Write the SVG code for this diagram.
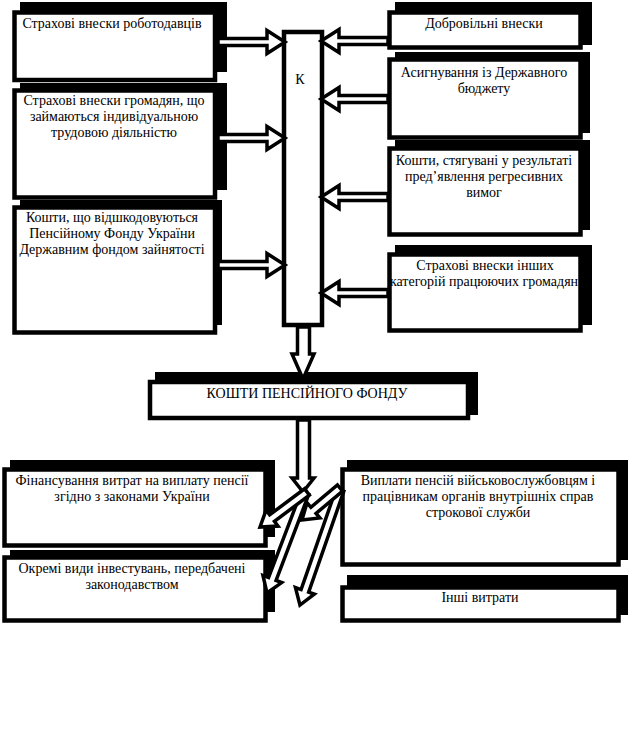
<svg xmlns="http://www.w3.org/2000/svg" width="630" height="731" viewBox="0 0 630 731">
<style>
.sh{fill:#000}
.bx{fill:#fff;stroke:#000;stroke-width:4.5}
.ar{fill:#fff;stroke:#000;stroke-width:3.5;stroke-linejoin:miter;stroke-miterlimit:10}
text{font-family:"Liberation Serif","Times New Roman",serif;font-size:14px;fill:#000;text-anchor:middle}
</style>
<rect width="630" height="731" fill="#fff"/>

<g id="l1">
<rect class="sh" x="20" y="2" width="207" height="70"/>
<rect class="bx" x="14.5" y="12.5" width="200.5" height="67.5"/>
<text x="112" y="28">Страхові внески роботодавців</text>
</g>
<g id="l2">
<rect class="sh" x="20" y="83" width="207" height="107"/>
<rect class="bx" x="14.5" y="90.5" width="200.5" height="107"/>
<text x="114" y="105">Страхові внески громадян, що</text>
<text x="114" y="121">займаються індивідуальною</text>
<text x="114" y="137">трудовою діяльністю</text>
</g>
<g id="l3">
<rect class="sh" x="20" y="200" width="202" height="125"/>
<rect class="bx" x="14.5" y="207.5" width="200.5" height="125"/>
<text x="112" y="222">Кошти, що відшкодовуються</text>
<text x="112" y="238">Пенсійному Фонду України</text>
<text x="112" y="254">Державним фондом зайнятості</text>
</g>

<g id="k">
<rect class="bx" x="284" y="32" width="38" height="293" stroke-width="4"/>
<text x="300" y="84">К</text>
</g>

<g id="r1">
<rect class="sh" x="395" y="2" width="197" height="43"/>
<rect class="bx" x="389.5" y="12.5" width="191" height="35"/>
<text x="484" y="28">Добровільні внески</text>
</g>
<g id="r2">
<rect class="sh" x="395" y="52" width="195" height="81"/>
<rect class="bx" x="389.5" y="59.5" width="191" height="78"/>
<text x="484" y="77">Асигнування із Державного</text>
<text x="484" y="93">бюджету</text>
</g>
<g id="r3">
<rect class="sh" x="395" y="140" width="195" height="90"/>
<rect class="bx" x="389.5" y="148.5" width="191" height="86"/>
<text x="484" y="165">Кошти, стягувані у результаті</text>
<text x="484" y="181">пред’явлення регресивних</text>
<text x="484" y="197">вимог</text>
</g>
<g id="r4">
<rect class="sh" x="395" y="245" width="197" height="80"/>
<rect class="bx" x="389.5" y="254.5" width="191" height="76"/>
<text x="485" y="270">Страхові внески інших</text>
<text x="484" y="286">категорій працюючих громадян</text>
</g>

<g id="main">
<rect class="sh" x="155" y="372" width="323" height="43"/>
<rect class="bx" x="150" y="382" width="318" height="36"/>
<text x="307" y="398">КОШТИ ПЕНСІЙНОГО ФОНДУ</text>
</g>

<g id="bl1">
<rect class="sh" x="10" y="460" width="265" height="77"/>
<rect class="bx" x="4.5" y="469.5" width="261" height="76"/>
<text x="132" y="485">Фінансування витрат на виплату пенсії</text>
<text x="132" y="501">згідно з законами України</text>
</g>
<g id="bl2">
<rect class="sh" x="10" y="550" width="265" height="62"/>
<rect class="bx" x="4.5" y="557.5" width="261" height="63"/>
<text x="132" y="573">Окремі види інвестувань, передбачені</text>
<text x="132" y="589">законодавством</text>
</g>
<g id="br1">
<rect class="sh" x="347" y="460" width="281" height="100"/>
<rect class="bx" x="342.5" y="469.5" width="276" height="95"/>
<text x="478" y="485">Виплати пенсій військовослужбовцям і</text>
<text x="478" y="501">працівникам органів внутрішніх справ</text>
<text x="478" y="517">строкової служби</text>
</g>
<g id="br2">
<rect class="sh" x="347" y="575" width="281" height="40"/>
<rect class="bx" x="342.5" y="587.5" width="276" height="33"/>
<text x="480" y="602">Інші витрати</text>
</g>

<g id="connectors">
<path class="ar" d="M218,38.5 H267 V30.5 L285,42 L267,53.5 V45.5 H218 Z"/>
<path class="ar" d="M218,134.5 H267 V126.5 L285,138 L267,149.5 V141.5 H218 Z"/>
<path class="ar" d="M218,261.5 H267 V253.5 L285,265 L267,276.5 V268.5 H218 Z"/>

<path class="ar" d="M388,37.5 H339 V29.5 L321,41 L339,52.5 V44.5 H388 Z"/>
<path class="ar" d="M388,95.5 H339 V87.5 L321,99 L339,110.5 V102.5 H388 Z"/>
<path class="ar" d="M388,193.5 H339 V185.5 L321,197 L339,208.5 V200.5 H388 Z"/>
<path class="ar" d="M388,289.5 H339 V281.5 L321,293 L339,304.5 V296.5 H388 Z"/>

<path class="ar" d="M297.5,327 V354 H292 L303,379 L314,354 H309.5 V327 Z"/>
<path class="ar" d="M297.5,420 V478 H292 L303,492 L314,478 H309.5 V420 Z"/>

<path class="ar" transform="translate(340,490) rotate(109.2)" d="M0,-4 H106.8 V-10 L121.8,0 L106.8,10 V4 H0 Z"/>
<path class="ar" transform="translate(305,493) rotate(110.8)" d="M0,-4 H92 V-10 L107,0 L92,10 V4 H0 Z"/>
<path class="ar" transform="translate(340,488) rotate(139.9)" d="M0,-4 H34.7 V-10 L49.7,0 L34.7,10 V4 H0 Z"/>
<path class="ar" transform="translate(307,492) rotate(143.3)" d="M0,-4 H43.6 V-10 L58.6,0 L43.6,10 V4 H0 Z"/>
</g>
</svg>
